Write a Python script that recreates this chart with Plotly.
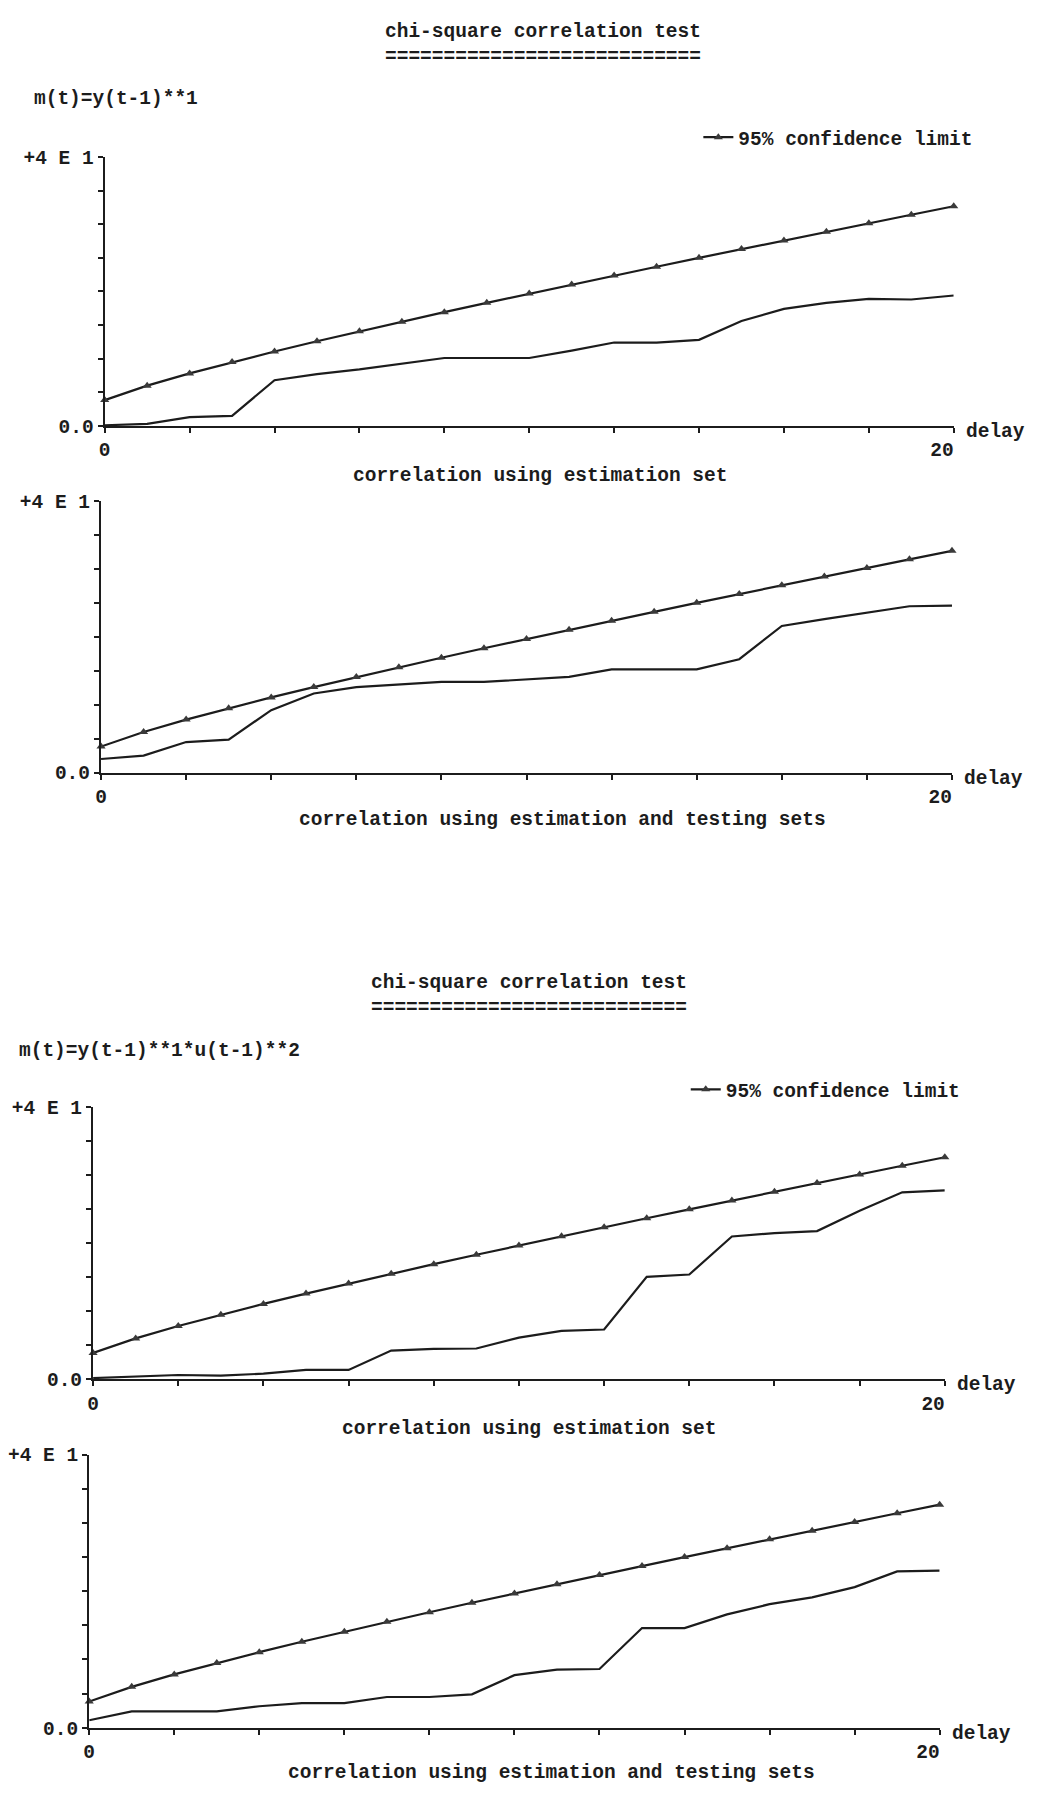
import plotly.graph_objects as go

# ---------------- data ----------------
delays = list(range(21))
x_tick_vals = list(range(0, 21, 2))
x_tick_text = ["0", "", "", "", "", "", "", "", "", "", "20\u00a0\u00a0"]
y_tick_vals = [0, 5, 10, 15, 20, 25, 30, 35, 40]
y_tick_text = ["0.0", "", "", "", "", "", "", "", "+4 E 1"]

conf_limit = [3.84, 5.99, 7.81, 9.49, 11.07, 12.59, 14.07, 15.51, 16.92, 18.31, 19.68,
              21.03, 22.36, 23.68, 25.00, 26.30, 27.59, 28.87, 30.14, 31.41, 32.67]

# model 1 : m(t)=y(t-1)**1
m1_estimation = [0.1, 0.3, 1.3, 1.5, 6.8, 7.7, 8.4, 9.2, 10.1, 10.1, 10.1,
                 11.2, 12.4, 12.4, 12.8, 15.6, 17.4, 18.3, 18.9, 18.8, 19.4]
m1_est_test = [2.0, 2.5, 4.5, 4.85, 9.2, 11.65, 12.6, 13.0, 13.35, 13.35, 13.7,
               14.1, 15.2, 15.2, 15.2, 16.7, 21.6, 22.6, 23.5, 24.5, 24.6]

# model 2 : m(t)=y(t-1)**1*u(t-1)**2
m2_estimation = [0.15, 0.35, 0.6, 0.5, 0.8, 1.35, 1.35, 4.2, 4.45, 4.5, 6.1,
                 7.1, 7.3, 15.05, 15.4, 21.0, 21.5, 21.8, 24.8, 27.5, 27.8]
m2_est_test = [1.1, 2.4, 2.4, 2.4, 3.15, 3.6, 3.6, 4.5, 4.5, 4.9, 7.7,
               8.5, 8.6, 14.6, 14.6, 16.6, 18.1, 19.1, 20.6, 22.9, 23.0]

titles = ["chi-square correlation test", "chi-square correlation test"]
models = ["m(t)=y(t-1)**1", "m(t)=y(t-1)**1*u(t-1)**2"]
subtitles = ["correlation using estimation set",
             "correlation using estimation and testing sets",
             "correlation using estimation set",
             "correlation using estimation and testing sets"]
legend_label = "95% confidence limit"
series = [m1_estimation, m1_est_test, m2_estimation, m2_est_test]

# ---------------- layout geometry (pixels) ----------------
W, H = 1039, 1793
FONT = "Liberation Mono"
INK = "#1c1c1c"
FS = 19.5

# [x_left, x_right, y_top, y_bottom] for each panel
panels = [
    [90.5, 966.5, 141.7, 414.0],
    [86.7, 964.7, 490.0, 765.0],
    [78.5, 957.3, 1104.0, 1379.0],
    [74.5, 952.0, 1455.5, 1732.0],
]
subtitle_pos = [(540, 465), (563, 813), (528, 1430), (551, 1778)]
title_pos = [(543, 15, 27), (528, 978, 990)]
model_pos = [(15, 83), (0, 1047)]
legend_pos = [(703, 122), (690, 1086)]


def fx(p):
    return p / W


def fy(p):
    return 1 - p / H


def fnt(size=FS):
    return dict(family=FONT, size=size, color=INK, weight="bold")


fig = go.Figure()
annotations = []

for i, (vals, box) in enumerate(zip(series, panels)):
    n = i + 1
    xs = "x" if n == 1 else f"x{n}"
    ys = "y" if n == 1 else f"y{n}"
    show_leg = i in (0, 2)
    leg_name = "legend" if i == 0 else "legend2"
    fig.add_trace(go.Scatter(
        x=delays, y=conf_limit, xaxis=xs, yaxis=ys,
        mode="lines+markers", name=legend_label,
        line=dict(color=INK, width=2.2),
        marker=dict(symbol="triangle-up", size=8, color="#3a3a3a"),
        showlegend=show_leg, legend=leg_name, cliponaxis=False,
    ))
    fig.add_trace(go.Scatter(
        x=delays, y=vals, xaxis=xs, yaxis=ys,
        mode="lines", name="chi-square",
        line=dict(color=INK, width=2.2),
        showlegend=False, cliponaxis=False,
    ))
    x0, x1, yt, yb = box
    axis_common = dict(
        showline=True, linewidth=2.2, linecolor=INK, showgrid=False, zeroline=False,
        ticks="outside", ticklen=5, tickwidth=2, tickcolor=INK,
        tickfont=fnt(), fixedrange=True,
    )
    fig.update_layout(**{
        ("xaxis" if n == 1 else f"xaxis{n}"): dict(
            domain=[fx(x0), fx(x1)], range=[0, 20], anchor=ys,
            tickmode="array", tickvals=x_tick_vals, ticktext=x_tick_text,
            **axis_common),
        ("yaxis" if n == 1 else f"yaxis{n}"): dict(
            domain=[fy(yb), fy(yt)], range=[0, 40], anchor=xs,
            tickmode="array", tickvals=y_tick_vals, ticktext=y_tick_text,
            **axis_common),
    })
    # "delay" axis label
    annotations.append(dict(
        text="delay", xref=f"{xs} domain", yref=f"{ys} domain", x=1, y=0,
        xanchor="left", yanchor="middle", xshift=10, yshift=-6, showarrow=False,
        font=fnt()))
    # subtitle under each panel
    sx, sy = subtitle_pos[i]
    annotations.append(dict(
        text=subtitles[i], xref="paper", yref="paper", x=fx(sx), y=fy(sy),
        xanchor="center", yanchor="middle", showarrow=False, font=fnt()))

for j in range(2):
    tx, ty, uy = title_pos[j]
    annotations.append(dict(
        text=titles[j], xref="paper", yref="paper", x=fx(tx), y=fy(ty),
        xanchor="center", yanchor="middle", showarrow=False, font=fnt()))
    annotations.append(dict(
        text="=" * len(titles[j]), xref="paper", yref="paper", x=fx(tx), y=fy(uy),
        xanchor="center", yanchor="top", showarrow=False, font=fnt()))
    mx, my = model_pos[j]
    annotations.append(dict(
        text=models[j], xref="paper", yref="paper", x=fx(mx), y=fy(my),
        xanchor="left", yanchor="middle", showarrow=False, font=fnt()))

legend_common = dict(
    xanchor="left", yanchor="middle", bgcolor="rgba(0,0,0,0)", borderwidth=0,
    font=fnt(), itemwidth=30,
)
fig.update_layout(
    width=W, height=H, autosize=False,
    margin=dict(l=0, r=0, t=0, b=0, pad=0),
    paper_bgcolor="white", plot_bgcolor="white",
    annotations=annotations,
    legend=dict(x=fx(legend_pos[0][0]), y=fy(legend_pos[0][1]), **legend_common),
    legend2=dict(x=fx(legend_pos[1][0]), y=fy(legend_pos[1][1]), **legend_common),
    font=fnt(),
)

fig.write_html("out.html")
